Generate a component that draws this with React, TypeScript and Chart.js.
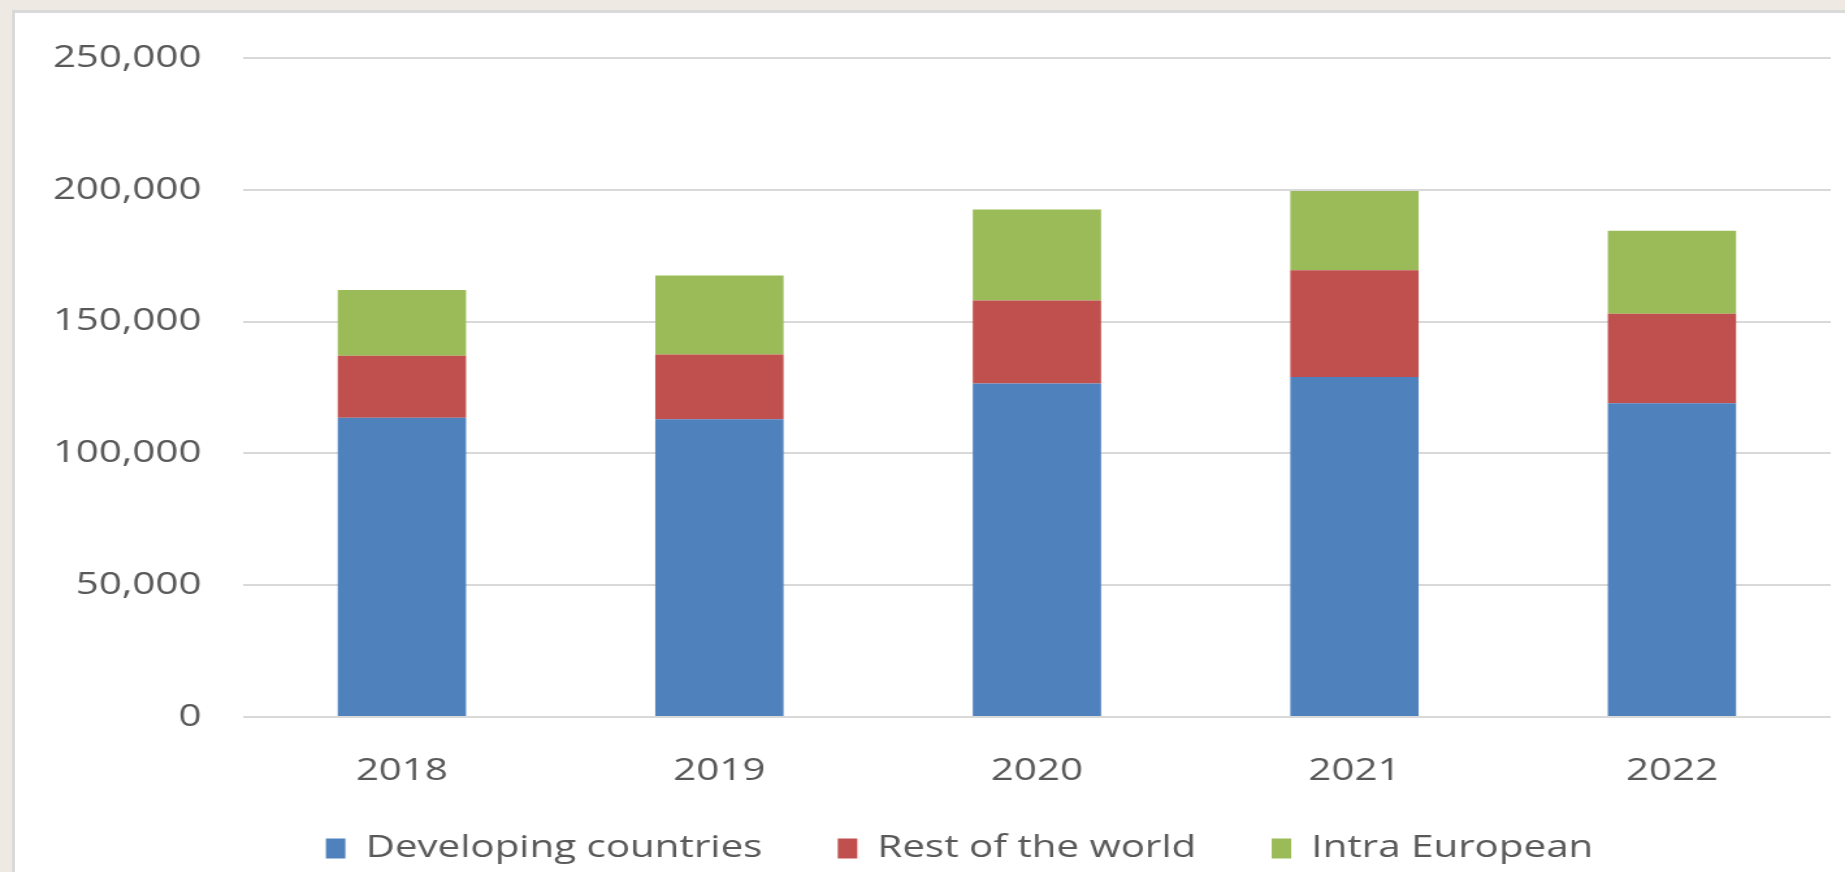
import { useEffect, useRef } from "react";
import { Chart, registerables } from "chart.js";

Chart.register(...registerables);

// ---- data ----
const years = ["2018", "2019", "2020", "2021", "2022"];
const developingCountries = [113500, 113000, 126500, 129000, 119000];
const restOfTheWorld = [23500, 24500, 31500, 40500, 34000];
const intraEuropean = [25000, 30000, 34500, 30000, 31500];
const seriesNames = ["Developing countries", "Rest of the world", "Intra European"];
const seriesColors = ["#4F81BD", "#C0504D", "#9BBB59"];
const yMin = 0;
const yMax = 250000;
const yStep = 50000;

// ---- layout / style ----
const PAGE_W = 1845;
const PAGE_H = 872;
const STRETCH = 1.3; // the reference text is widened horizontally
const CANVAS_W = Math.round(PAGE_W / STRETCH);
const FONT_FAMILY = "'Open Sans', 'Noto Sans', sans-serif";
const TEXT_COLOR = "#595959";
const GRID_COLOR = "#d9d9d9";
const LEGEND_SHIFT_X = 15.5;
const LEGEND_SHIFT_Y = -12;

const legendShift = {
  id: "legendShift",
  afterLayout(chart: any) {
    const l = chart.legend;
    if (!l) return;
    l.left += LEGEND_SHIFT_X;
    l.right += LEGEND_SHIFT_X;
    l.top += LEGEND_SHIFT_Y;
    l.bottom += LEGEND_SHIFT_Y;
  },
};

export default function App() {
  const canvasRef = useRef<HTMLCanvasElement | null>(null);

  useEffect(() => {
    let chart: Chart | null = null;
    let cancelled = false;

    const build = () => {
      if (cancelled || !canvasRef.current) return;
      const font = { family: FONT_FAMILY, size: 31 };
      chart = new Chart(canvasRef.current, {
        type: "bar",
        data: {
          labels: years,
          datasets: [developingCountries, restOfTheWorld, intraEuropean].map((vals, i) => ({
            label: seriesNames[i],
            data: vals,
            backgroundColor: seriesColors[i],
            borderWidth: 0,
            barPercentage: 0.404,
            categoryPercentage: 1,
          })),
        },
        plugins: [legendShift],
        options: {
          responsive: false,
          animation: false,
          devicePixelRatio: 1,
          layout: { padding: { left: 37, right: 11, top: 58, bottom: -14 } },
          plugins: {
            legend: {
              position: "bottom",
              labels: {
                font,
                color: TEXT_COLOR,
                boxWidth: 15,
                boxHeight: 20,
                padding: 58,
              },
            },
            tooltip: { enabled: false },
          },
          scales: {
            x: {
              stacked: true,
              grid: { display: false },
              border: { display: false },
              ticks: { font, color: TEXT_COLOR, padding: 28 },
              afterFit: (s: any) => {
                s.height = 70;
              },
            },
            y: {
              stacked: true,
              min: yMin,
              max: yMax,
              ticks: { stepSize: yStep, font, color: TEXT_COLOR, padding: 32 },
              grid: { color: GRID_COLOR, lineWidth: 2, drawTicks: false },
              border: { display: false },
              afterFit: (s: any) => {
                s.width = 150;
              },
            },
          },
        },
      } as any);
    };

    const fonts = (document as any).fonts;
    if (fonts && fonts.load) {
      fonts.load("31px 'Open Sans'").then(build, build);
    } else {
      build();
    }

    return () => {
      cancelled = true;
      if (chart) chart.destroy();
    };
  }, []);

  return (
    <div
      style={{
        position: "fixed",
        left: 0,
        top: 0,
        width: PAGE_W,
        height: PAGE_H,
        overflow: "hidden",
        background: "#efe9e3",
      }}
    >
      <div
        style={{
          position: "absolute",
          left: 12,
          top: 10,
          width: PAGE_W + 20,
          height: PAGE_H + 20,
          border: "3px solid #d9d9d9",
          background: "#ffffff",
        }}
      />
      <canvas
        ref={canvasRef}
        width={CANVAS_W}
        height={PAGE_H}
        style={{
          position: "absolute",
          left: 0,
          top: 0,
          width: PAGE_W + "px",
          height: PAGE_H + "px",
        }}
      />
    </div>
  );
}
